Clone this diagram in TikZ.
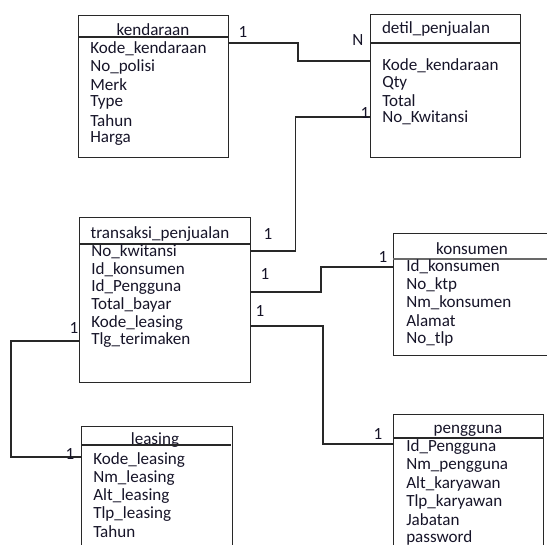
\documentclass[tikz,border=0pt]{standalone}
\usepackage{fontspec}
\setmainfont{Carlito}
\usetikzlibrary{calc,positioning}
\definecolor{ink}{RGB}{22,20,40}
\definecolor{rule}{RGB}{40,40,40}
\def\pxu{0.75pt}
\tikzset{
  entity/.style={draw=rule,line width=1pt,anchor=north west,inner sep=0pt},
  attr/.style={anchor=west,inner sep=0pt,text=ink},
  title/.style={inner sep=0pt,text=ink},
  card/.style={inner sep=0pt,text=ink},
  link/.style={draw=rule,line width=0.8pt}
}

\begin{document}
\begin{tikzpicture}[x=\pxu,y=-\pxu,font=\fontsize{12.8}{15}\selectfont]
  \useasboundingbox (0,0) rectangle (547,545);
  \clip (0,0) rectangle (547,545);

  % kendaraan
  \node[entity,minimum width=150*\pxu,minimum height=142*\pxu] (kendaraan) at (78,15) {};
  \draw[rule,line width=1pt] ($(kendaraan.north west)+(0,22)$) -- ($(kendaraan.north east)+(0,22)$);
  \node[title] (kdT) at (153,30) {kendaraan};
  \foreach \t [count=\i] in {Kode\_kendaraan,No\_polisi,Merk,Type,Tahun,Harga}
    \node[attr] (kd\i) at (90,{30.5+18*\i}) {\t};

  % detil_penjualan
  \node[entity,minimum width=150*\pxu,minimum height=143*\pxu] (detil) at (370,14) {};
  \draw[rule,line width=1pt] ($(detil.north west)+(0,29)$) -- ($(detil.north east)+(0,29)$);
  \node[title] (dpT) at (436,29) {detil\_penjualan};
  \foreach \t [count=\i] in {Kode\_kendaraan,Qty,Total,No\_Kwitansi}
    \node[attr] (dp\i) at (382,{48+17.5*\i}) {\t};

  % transaksi_penjualan
  \node[entity,minimum width=171*\pxu,minimum height=165*\pxu] (transaksi) at (79,217) {};
  \draw[rule,line width=1pt] ($(transaksi.north west)+(0,27)$) -- ($(transaksi.north east)+(0,27)$);
  \node[title] (tpT) at (160,234) {transaksi\_penjualan};
  \foreach \t [count=\i] in {No\_kwitansi,Id\_konsumen,Id\_Pengguna,Total\_bayar,Kode\_leasing,Tlg\_terimaken}
    \node[attr] (tp\i) at (91,{234.6+17.6*\i}) {\t};

  % konsumen
  \node[entity,minimum width=175*\pxu,minimum height=122*\pxu] (konsumen) at (393,233) {};
  \draw[rule!70,line width=1.4pt] ($(konsumen.north west)+(0,26)$) -- ($(konsumen.north east)+(0,26)$);
  \node[title] (ksT) at (472,249) {konsumen};
  \foreach \t [count=\i] in {Id\_konsumen,No\_ktp,Nm\_konsumen,Alamat,No\_tlp}
    \node[attr] (ks\i) at (406,{248.5+18*\i}) {\t};

  % pengguna
  \node[entity,minimum width=150*\pxu,minimum height=150*\pxu] (pengguna) at (393,414) {};
  \draw[rule,line width=1pt] ($(pengguna.north west)+(0,24)$) -- ($(pengguna.north east)+(0,24)$);
  \node[title] (pgT) at (468,431) {pengguna};
  \foreach \t [count=\i] in {Id\_Pengguna,Nm\_pengguna,Alt\_karyawan,Tlp\_karyawan,Jabatan,password}
    \node[attr] (pg\i) at (406,{429.5+18*\i}) {\t};

  % leasing
  \node[entity,minimum width=151*\pxu,minimum height=140*\pxu] (leasing) at (81,426) {};
  \node[title] (lsT) at (155,440) {leasing};
  \draw[rule,line width=1pt] ($(leasing.north west)+(0,19)$) -- ($(leasing.north east)+(-2,19)$);
  \foreach \t [count=\i] in {Kode\_leasing,Nm\_leasing,Alt\_leasing,Tlp\_leasing,Tahun}
    \node[attr] (ls\i) at (93,{442.7+17.8*\i}) {\t};

  % relasi
  \draw[link] ($(kendaraan.north east)+(0,28)$) -| ($(detil.north west)+(-72,47)$) -- ($(detil.north west)+(0,47)$);
  \draw[link] ($(detil.north west)+(0,103)$) -| ($(transaksi.north east)+(44,34)$) -- ($(transaksi.north east)+(0,34)$);
  \draw[link] ($(transaksi.north east)+(0,75)$) -| ($(konsumen.north west)+(-72,34)$) -- ($(konsumen.north west)+(0,34)$);
  \draw[link] ($(transaksi.north east)+(0,109)$) -| ($(pengguna.north west)+(-70,30)$) -- ($(pengguna.north west)+(0,30)$);
  \draw[link] ($(transaksi.north west)+(0,124)$) -| ($(leasing.north west)+(-70,31)$) -- ($(leasing.north west)+(0,31)$);

  % kardinalitas
  \node[card] (c1) at (243,32) {1};
  \node[card] (c2) at (358,40) {N};
  \node[card] (c3) at (365,113) {1};
  \node[card] (c4) at (268,234) {1};
  \node[card] (c5) at (265,274) {1};
  \node[card] (c6) at (383,257) {1};
  \node[card] (c7) at (260,311) {1};
  \node[card] (c8) at (378,434) {1};
  \node[card] (c9) at (74,328) {1};
  \node[card] (c10) at (70,454) {1};
\end{tikzpicture}
\end{document}
